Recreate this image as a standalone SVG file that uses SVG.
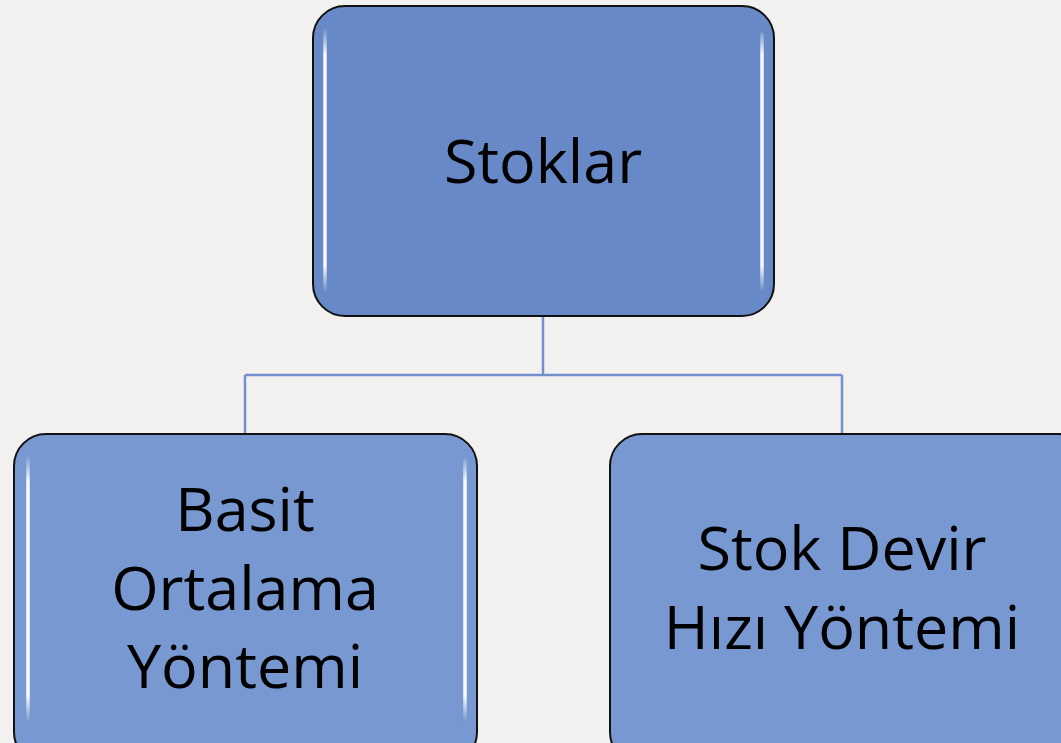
<svg xmlns="http://www.w3.org/2000/svg" width="1061" height="743" viewBox="0 0 1061 743">
<defs>
<linearGradient id="gl" x1="0" y1="0" x2="0" y2="1">
<stop offset="0" stop-color="#ffffff" stop-opacity="0"/>
<stop offset="0.1" stop-color="#ffffff" stop-opacity="0.95"/>
<stop offset="0.9" stop-color="#ffffff" stop-opacity="0.95"/>
<stop offset="1" stop-color="#ffffff" stop-opacity="0"/>
</linearGradient>
</defs>
<style>
.box{stroke:#111;stroke-width:2}
.top{fill:#6889c8}
.sub{fill:#7798d0}
.gl{stroke:url(#gl);stroke-width:3.5;fill:none;stroke-linecap:round}
.t{font-family:"Open Sans","Lato",sans-serif;fill:#000;text-anchor:middle}
.c{stroke:#7290cb;stroke-width:2.5;fill:none}
</style>
<rect width="1061" height="743" fill="#f2f1ef"/>
<g id="connectors">
<path class="c" d="M543 316 V375 M245 375 H842 M245 375 V434 M842 375 V434"/>
</g>
<g id="stoklar">
<rect class="box top" x="313" y="6" width="461" height="310" rx="32"/>
<path class="gl" d="M325 28 V292 M762 34 V292"/>
<text class="t" x="543" y="183" font-size="61">Stoklar</text>
</g>
<g id="basit">
<rect class="box sub" x="14" y="434" width="463" height="330" rx="32"/>
<path class="gl" d="M28 455 V722 M465 460 V722"/>
<text class="t" x="245" y="531" font-size="61">Basit</text>
<text class="t" x="245" y="610" font-size="61">Ortalama</text>
<text class="t" x="245" y="688" font-size="61">Yöntemi</text>
</g>
<g id="stokdevir">
<rect class="box sub" x="610" y="434" width="480" height="330" rx="32"/>
<path class="gl" d="M623 455 V722"/>
<text class="t" x="842" y="570" font-size="61">Stok Devir</text>
<text class="t" x="842" y="649" font-size="61">Hızı Yöntemi</text>
</g>
</svg>
